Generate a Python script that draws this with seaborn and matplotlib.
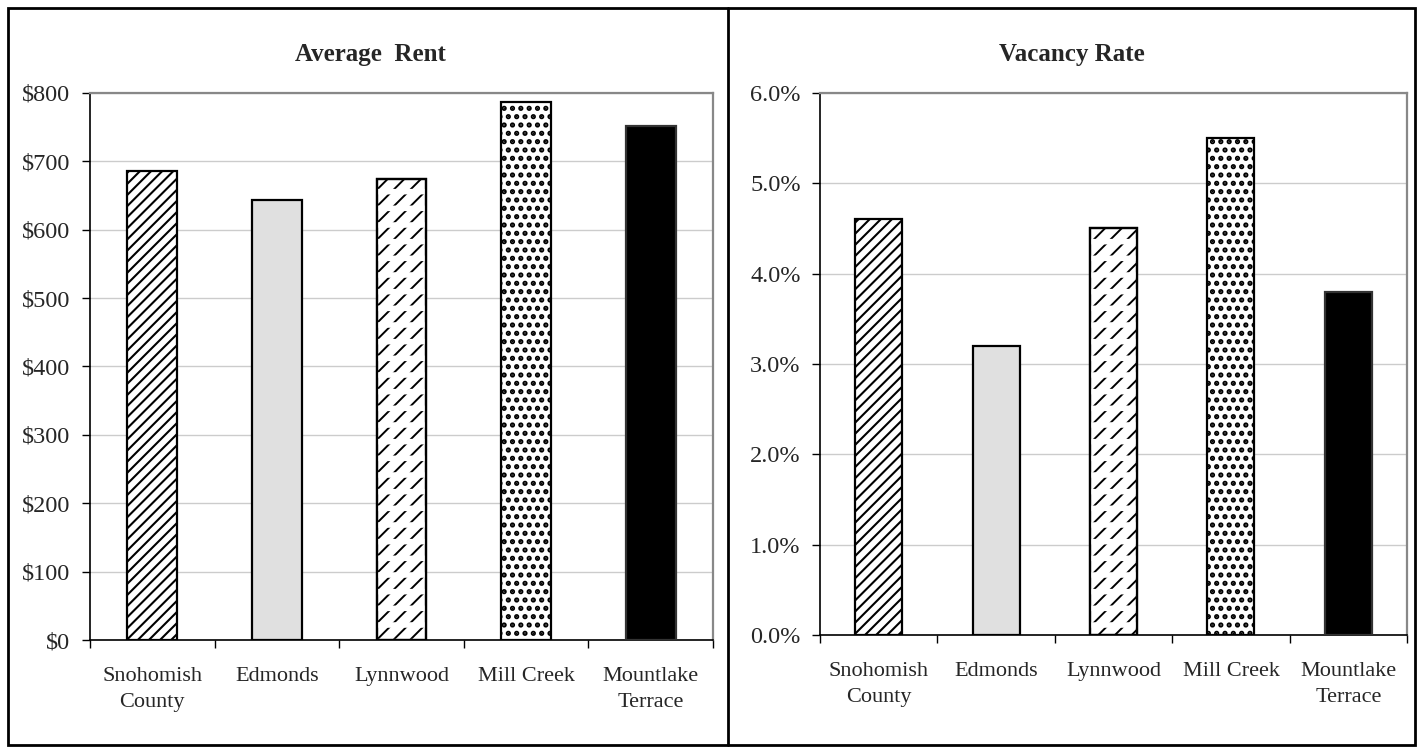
import numpy as np
import pandas as pd
import matplotlib
import matplotlib.pyplot as plt
from matplotlib.patches import Rectangle
from matplotlib.ticker import FuncFormatter, FixedLocator, NullFormatter
import seaborn as sns

matplotlib.use("Agg")

places = ["Snohomish County", "Edmonds", "Lynnwood", "Mill Creek", "Mountlake Terrace"]
tick_labels = ["Snohomish\nCounty", "Edmonds", "Lynnwood", "Mill Creek", "Mountlake\nTerrace"]
avg_rent = [686, 643, 674, 787, 752]
vacancy_rate = [4.6, 3.2, 4.5, 5.5, 3.8]

fills = ["white", "#e0e0e0", "white", "white", "black"]
hatches = ["///", "", "//", "..", ""]
hatch_widths = [1.5, 1.0, 1.4, 2.5, 1.0]

sns.set_style("white")
plt.rcParams["font.family"] = ["Liberation Serif", "DejaVu Serif"]

fig = plt.figure(figsize=(14.23, 7.51), dpi=100)
ax1 = fig.add_axes([0.0632, 0.1478, 0.4378, 0.7284])
ax2 = fig.add_axes([0.5763, 0.1545, 0.4125, 0.7217])

rent_df = pd.DataFrame({"place": places, "value": avg_rent})
vac_df = pd.DataFrame({"place": places, "value": vacancy_rate})


def hatch_width(patch, lw):
    # per-patch hatch line width, works whether or not the patch API has it
    if hasattr(patch, "set_hatch_linewidth"):
        patch.set_hatch_linewidth(lw)
    orig = patch.draw

    def draw(renderer, orig=orig, lw=lw):
        with plt.rc_context({"hatch.linewidth": lw}):
            orig(renderer)
    patch.draw = draw


def draw_panel(ax, df, ymax, step, fmt, title, title_x):
    sns.barplot(data=df, x="place", y="value", hue="place", palette=dict(zip(places, fills)),
                legend=False, width=0.4, saturation=1, edgecolor="black", linewidth=1.6, ax=ax, zorder=3)
    bars = ax.patches[:len(places)]
    for p, h, f, lw in zip(bars, hatches, fills, hatch_widths):
        if h:
            p.set_hatch(h)
            hatch_width(p, lw)
        if f == "black":
            p.set_edgecolor("#333333")
    # break the Lynnwood diagonals into dashes
    lp = bars[2]
    over = Rectangle((lp.get_x(), lp.get_y()), lp.get_width(), lp.get_height(),
                     facecolor="none", edgecolor="white", hatch="-", linewidth=0, zorder=4)
    hatch_width(over, 4.0)
    ax.add_patch(over)
    frame = Rectangle((lp.get_x(), lp.get_y()), lp.get_width(), lp.get_height(),
                      facecolor="none", edgecolor="black", linewidth=1.6, zorder=5)
    ax.add_patch(frame)

    ax.set_ylim(0, ymax)
    ax.set_xlim(-0.5, len(places) - 0.5)
    ax.set_yticks(np.arange(0, ymax + step / 2, step))
    ax.yaxis.set_major_formatter(FuncFormatter(fmt))
    ax.grid(axis="y", color="#cccccc", linewidth=1.0, zorder=0)
    ax.set_axisbelow(True)

    ax.set_xticks(range(len(places)))
    ax.set_xticklabels(tick_labels)
    ax.xaxis.set_minor_locator(FixedLocator(np.arange(-0.5, len(places), 1)))
    ax.xaxis.set_minor_formatter(NullFormatter())
    ax.tick_params(axis="x", which="major", length=0, pad=19.5, labelsize=16)
    ax.tick_params(axis="x", which="minor", length=6, width=1, color="black", direction="out", bottom=True)
    ax.tick_params(axis="y", length=6, width=1, color="black", direction="out", left=True, pad=8, labelsize=17.5)
    for lab in ax.get_xticklabels():
        lab.set_linespacing(1.5)

    ax.set_xlabel("")
    ax.set_ylabel("")
    for side in ["top", "right"]:
        ax.spines[side].set_visible(True)
        ax.spines[side].set_color("#888888")
        ax.spines[side].set_linewidth(1.6)
    for side in ["left", "bottom"]:
        ax.spines[side].set_color("black")
        ax.spines[side].set_linewidth(1.2)
    fig.text(title_x, 1 - 55 / 751, title, ha="center", va="center", fontsize=18, fontweight="bold")


draw_panel(ax1, rent_df, 800, 100, lambda v, _: f"${v:.0f}", "Average  Rent", 370 / 1423)
draw_panel(ax2, vac_df, 6.0, 1.0, lambda v, _: f"{v:.1f}%", "Vacancy Rate", 1072 / 1423)

# outer frame and panel divider
W, H = 1423, 751
fig.patches.append(Rectangle((8 / W, 1 - 745 / H), (1415 - 8) / W, (745 - 8) / H, transform=fig.transFigure,
                             facecolor="none", edgecolor="black", linewidth=2, zorder=10))
fig.add_artist(plt.Line2D([728 / W, 728 / W], [1 - 745 / H, 1 - 8 / H], transform=fig.transFigure,
                          color="black", linewidth=2))

fig.savefig("out.png", dpi=100)
